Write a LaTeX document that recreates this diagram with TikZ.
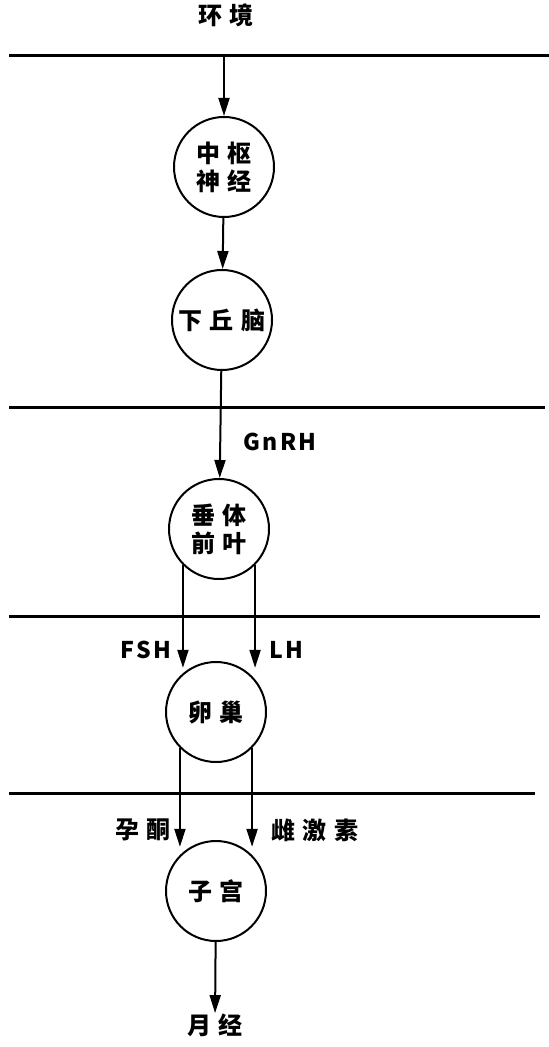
\documentclass[tikz,border=0pt]{standalone}
\usepackage{fontspec}
\newfontfamily\cjk[LetterSpace=30]{Noto Sans CJK SC}
\newfontfamily\latn[LetterSpace=10]{Noto Sans CJK SC}
\usepackage{tikz}
\usetikzlibrary{arrows.meta}

\begin{document}
\begin{tikzpicture}[x=0.5pt, y=-0.5pt,
    organ/.style={circle, draw, line width=1pt, minimum size=50pt, inner sep=0pt, align=center, font=\cjk\bfseries\fontsize{12}{14}\selectfont},
    tag/.style={font=\cjk\bfseries\fontsize{12}{14}\selectfont, inner sep=0pt},
    hormone/.style={font=\latn\bfseries\fontsize{11.5}{13}\selectfont, inner sep=0pt},
    flow/.style={-{Triangle[length=9pt, width=5.5pt]}, line width=1pt},
    level/.style={line width=1.5pt}]
        \useasboundingbox (0,0) rectangle (549,1047);

        % Level lines
        \coordinate (lvAw) at (9,56);  \coordinate (lvAe) at (549,56);
        \coordinate (lvBw) at (9,407); \coordinate (lvBe) at (545,407);
        \coordinate (lvCw) at (9,616); \coordinate (lvCe) at (540,616);
        \coordinate (lvDw) at (9,793); \coordinate (lvDe) at (535,793);
        \draw[level] (lvAw) -- (lvAe);
        \draw[level] (lvBw) -- (lvBe);
        \draw[level] (lvCw) -- (lvCe);
        \draw[level] (lvDw) -- (lvDe);

        % Organs
        \node[tag] (env) at (226,15) {环境};
        \node[organ] (cns) at (224,167) {中枢\\神经};
        \node[organ] (hypo) at (222,320) {下丘脑};
        \node[organ] (pit) at (219,529) {垂体\\前叶};
        \node[organ] (ova) at (216,712) {卵巢};
        \node[organ] (uter) at (216,891) {子宫};
        \node[tag] (mens) at (215,1025) {月经};

        % Hormone labels
        \node[hormone] (gnrh) at (280,442) {GnRH};
        \node[hormone] (fsh) at (146,650) {FSH};
        \node[hormone] (lh) at (286,650) {LH};
        \node[tag] (prog) at (143,830) {孕酮};
        \node[tag] (estr) at (315,830) {雌激素};

        % Connectors
        \draw[flow] (cns.north |- lvAw) -- (cns.north);
        \draw[flow] (cns) -- (hypo);
        \draw[flow] (hypo) -- (pit);
        \draw[flow] (pit.225) -- (pit.225 |- ova.120);
        \draw[flow] (pit.315) -- (pit.315 |- ova.60);
        \draw[flow] (ova.225) -- (ova.225 |- uter.120);
        \draw[flow] (ova.315) -- (ova.315 |- uter.60);
        \draw[flow] (uter) -- (mens);
    \end{tikzpicture}
\end{document}
